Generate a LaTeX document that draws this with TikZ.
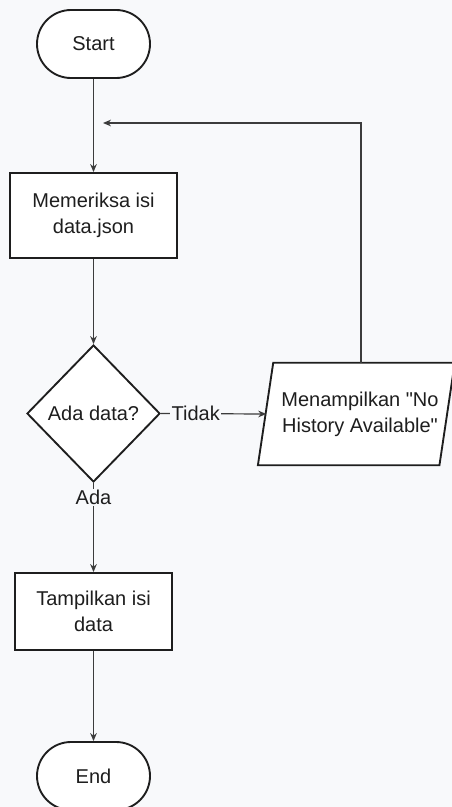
\documentclass[tikz,border=0pt]{standalone}
\usepackage{fontspec}
\setmainfont{Liberation Sans}[Ligatures=TeXOff]
\usetikzlibrary{shapes.geometric,arrows.meta}
\definecolor{pagebg}{RGB}{248,249,251}
\definecolor{ink}{RGB}{30,30,30}
\definecolor{wire}{RGB}{60,60,60}
\tikzset{
  base/.style={draw=ink, line width=1.4pt, fill=white, text=ink, inner sep=0pt,
    font=\fontsize{15}{19.5}\selectfont, align=center},
  terminal/.style={base, rectangle, rounded corners=25.5pt,
    minimum width=84.75pt, minimum height=51pt},
  process/.style={base, rectangle},
  decision/.style={base, diamond, minimum width=99.75pt, minimum height=102.75pt},
  iotext/.style={rectangle, text=ink, inner sep=0pt,
    font=\fontsize{15}{19.5}\selectfont, align=center,
    minimum width=135.75pt, minimum height=76.5pt},
  ioframe/.style={draw=ink, line width=1.4pt, fill=white, line join=miter},
  flow/.style={draw=wire, line width=0.9pt, -{Stealth[length=6pt,width=5pt]}},
  tag/.style={fill=pagebg, text=ink, inner sep=1pt, font=\fontsize{15}{18}\selectfont}
}
\begin{document}
\begin{tikzpicture}[x=0.75pt,y=-0.75pt]
  \fill[pagebg] (0,0) rectangle (452,807);
  \useasboundingbox (0,0) rectangle (452,807);

  \node[terminal] (start) at (93.5,44) {Start};
  \node[process, minimum width=125.25pt, minimum height=63.75pt] (check) at (93.5,215.5)
    {Memeriksa isi\\data.json};
  \node[decision] (dec) at (93.5,413.5) {Ada data?};

  % input/output block: slanted frame drawn around the text box
  \node[iotext] (msg) at (360,414) {};
  \draw[ioframe] ([xshift=-8.5pt]msg.south west) -- ([xshift=3pt]msg.north west)
    -- ([xshift=3pt]msg.north east) -- ([xshift=-8.5pt]msg.south east) -- cycle;
  \node[iotext] at (msg.center) {Menampilkan "No\\History Available"};

  \node[process, minimum width=117.75pt, minimum height=57.75pt] (show) at (93.5,611.5)
    {Tampilkan isi\\data};
  \node[terminal] (stop) at (93.5,776) {End};

  \coordinate (back) at (103,123);

  \draw[flow] (start) -- (check);
  \draw[flow] (check) -- (dec);
  \draw[flow] (dec.east) -- node[tag, pos=0.33] {Tidak} ([xshift=-2.25pt]msg.west);
  \draw[flow] ([xshift=0.75pt]msg.north) |- (back);
  \draw[flow] (dec.south) -- node[tag, pos=0.165] {Ada} (show.north);
  \draw[flow] (show) -- (stop);
\end{tikzpicture}
\end{document}
